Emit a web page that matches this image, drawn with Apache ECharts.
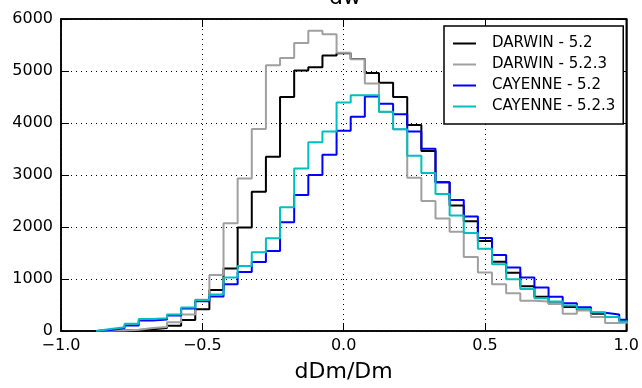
<!DOCTYPE html>
<html>
<head>
<meta charset="utf-8">
<script src="https://cdn.jsdelivr.net/npm/echarts@6/dist/echarts.min.js"></script>
<style>html,body{margin:0;padding:0;background:#fff}#c{width:642px;height:388px}</style>
</head>
<body>
<div id="c"></div>
<script>
const binCenters = [-0.85,-0.8,-0.75,-0.7,-0.65,-0.6,-0.55,-0.5,-0.45,-0.4,-0.35,-0.3,-0.25,-0.2,-0.15,-0.1,-0.05,0,0.05,0.1,0.15,0.2,0.25,0.3,0.35,0.4,0.45,0.5,0.55,0.6,0.65,0.7,0.75,0.8,0.85,0.9,0.95,1.0];
const binWidth = 0.05;
const darwin52 = [5,10,20,35,60,100,210,420,790,1200,1990,2680,3350,4500,5010,5070,5300,5340,5230,4960,4775,4500,3960,3460,2860,2415,2110,1730,1330,1120,860,660,530,460,410,330,270,200];
const darwin523 = [5,10,25,57,76,170,317,603,1075,2070,2933,3886,5111,5251,5537,5775,5708,5350,5225,4760,4210,3880,2946,2501,2165,1910,1423,1124,901,724,584,565,521,330,394,267,152,171];
const cayenne52 = [20,51,108,203,220,300,435,571,665,901,1137,1327,1540,2090,2616,3000,3390,3850,4120,4510,4370,4170,3835,3505,2860,2520,2203,1790,1460,1219,1028,838,660,533,457,349,318,216];
const cayenne523 = [38,72,140,232,245,317,450,597,700,1028,1251,1515,1785,2380,3124,3632,3835,4394,4533,4533,4215,3880,3370,3040,2635,2222,1886,1581,1282,996,810,629,565,490,425,362,267,185];
const seriesNames = ['DARWIN - 5.2','DARWIN - 5.2.3','CAYENNE - 5.2','CAYENNE - 5.2.3'];
const seriesColors = ['#000000','#a0a0a0','#0000ff','#00bfbf'];
const xTicks = [-1.0,-0.5,0.0,0.5,1.0];
const yTicks = [0,1000,2000,3000,4000,5000,6000];

function stepData(vals){
  const d = [[binCenters[0]-binWidth/2, 0]];
  for(let i=0;i<vals.length;i++) d.push([binCenters[i]-binWidth/2, vals[i]]);
  const last = vals.length-1;
  d.push([binCenters[last]+binWidth/2, vals[last]]);
  d.push([binCenters[last]+binWidth/2, 0]);
  return d;
}
const allVals = [darwin52, darwin523, cayenne52, cayenne523];
const FONT = 'DejaVu Sans';
const fmtX = v => (v<0?'\u2212':'') + Math.abs(v).toFixed(1);
const fmtY = v => String(v);
const dotted = {color:'#000', width:1, type:[1,4]};

const chart = echarts.init(document.getElementById('c'), null, {renderer:'canvas'});
chart.setOption({
  animation:false,
  backgroundColor:'#fff',
  title:{text:'dw', left:345, top:-13, textAlign:'center', padding:0,
    textStyle:{fontFamily:FONT, fontSize:22, fontWeight:'normal', color:'#000'}},
  grid:{left:61, right:13, top:19, bottom:54, show:true, borderColor:'#000', borderWidth:1.5, backgroundColor:'transparent'},
  legend:{
    orient:'vertical', left:444, top:26, padding:[7,8,7,9],
    backgroundColor:'#fff', borderColor:'#000', borderWidth:1.5, borderRadius:0,
    itemWidth:23, itemHeight:2, itemGap:0, icon:'rect',
    data:seriesNames,
    textStyle:{fontFamily:FONT, fontSize:15, color:'#000', lineHeight:21, padding:[0,0,0,11]}
  },
  xAxis:[{
    type:'value', min:xTicks[0], max:xTicks[xTicks.length-1], interval:0.5,
    name:'dDm/Dm', nameLocation:'middle', nameGap:30,
    nameTextStyle:{fontFamily:FONT, fontSize:22, color:'#000'},
    axisLine:{show:true, onZero:false, lineStyle:{color:'#000', width:1.5}},
    axisTick:{show:true, inside:true, length:8, lineStyle:{color:'#000'}},
    axisLabel:{fontFamily:FONT, fontSize:16, color:'#000', margin:7, formatter:fmtX},
    splitLine:{show:true, lineStyle:dotted}
  },{
    type:'value', position:'top', min:xTicks[0], max:xTicks[xTicks.length-1], interval:0.5,
    axisLine:{show:true, onZero:false, lineStyle:{color:'#000', width:1.5}},
    axisTick:{show:true, inside:true, length:8, lineStyle:{color:'#000'}},
    axisLabel:{show:false}, splitLine:{show:false}
  }],
  yAxis:[{
    type:'value', min:yTicks[0], max:yTicks[yTicks.length-1], interval:1000,
    axisLine:{show:true, onZero:false, lineStyle:{color:'#000', width:1.5}},
    axisTick:{show:true, inside:true, length:8, lineStyle:{color:'#000'}},
    axisLabel:{fontFamily:FONT, fontSize:16, color:'#000', margin:8, formatter:fmtY},
    splitLine:{show:true, lineStyle:dotted}
  },{
    type:'value', position:'right', min:yTicks[0], max:yTicks[yTicks.length-1], interval:1000,
    axisLine:{show:true, onZero:false, lineStyle:{color:'#000', width:1.5}},
    axisTick:{show:true, inside:true, length:8, lineStyle:{color:'#000'}},
    axisLabel:{show:false}, splitLine:{show:false}
  }],
  series: allVals.map((vals,i)=>({
    name:seriesNames[i], type:'line', step:'end', data:stepData(vals),
    showSymbol:false, symbol:'none', clip:true,
    lineStyle:{color:seriesColors[i], width:2},
    itemStyle:{color:seriesColors[i]},
    xAxisIndex:0, yAxisIndex:0, z:2+i
  }))
});
</script>
</body>
</html>
